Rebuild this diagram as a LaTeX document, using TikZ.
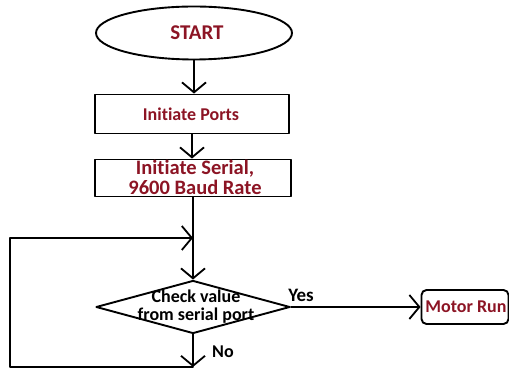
\documentclass[tikz,border=0pt]{standalone}
\usepackage{fontspec}
\setmainfont{Carlito}[Ligatures=NoCommon]
\usepackage{tikz}
\usetikzlibrary{arrows.meta,shapes.geometric}
\definecolor{zzqqqq}{rgb}{0.55,0.08,0.14}

\begin{document}
\begin{tikzpicture}[line cap=round,line join=round,x=1pt,y=1pt,
  >={Straight Barb[length=10pt,width=24pt,line width=1.8pt]},
  line width=1.8pt,
  txt/.style={text=zzqqqq,font=\fontsize{18}{18}\selectfont\bfseries,align=center,inner sep=0pt},
  lbl/.style={font=\fontsize{18}{18}\selectfont\bfseries,inner sep=0pt},
  stepbox/.style={draw,line width=1.9pt,inner sep=0pt}]
\useasboundingbox (0,0) rectangle (509,369);
% shapes
\node[stepbox,ellipse,minimum width=196pt,minimum height=53pt] (start) at (194,336) {};
\node[txt,font=\fontsize{21}{21}\selectfont\bfseries] (starttxt) at (197,336) {START};
\node[stepbox,minimum width=194pt,minimum height=39pt] (ports) at (192,255) {};
\node[txt] (portstxt) at (191,255) {Initiate Ports};
\node[stepbox,minimum width=196pt,minimum height=37pt] (serial) at (193,191) {};
\node[txt,font=\fontsize{20.5}{20}\selectfont\bfseries] (serialtxt) at (195,192) {Initiate Serial,\\9600 Baud Rate};
\node[stepbox,diamond,minimum width=194pt,minimum height=53pt] (check) at (193,62) {};
\node[txt,text=black] (checktxt) at (196,62) {Check value\\from serial port};
\node[stepbox,rounded corners=5pt,minimum width=87pt,minimum height=34pt] (motor) at (465,62) {};
\node[txt] (motortxt) at (466,62) {Motor Run};
\coordinate (join) at (193,131);
\coordinate (bottom) at (193,2);
% connectors
\draw[->] (start.south) -- (start.south |- ports.north);
\draw[->] (ports.south) -- (ports.south |- serial.north);
\draw[->] (serial.south) -- (check.north);
\draw[->] (check.east) -- (motor.west);
\draw[->] (check.south) -- (bottom);
\draw[->] (bottom) -- (10,2) -- (10,131) -- (join);
\node[lbl,font=\fontsize{19}{19}\selectfont\bfseries] (yes) at (301,74) {Yes};
\node[lbl] (no) at (223,17) {No};
\end{tikzpicture}
\end{document}
